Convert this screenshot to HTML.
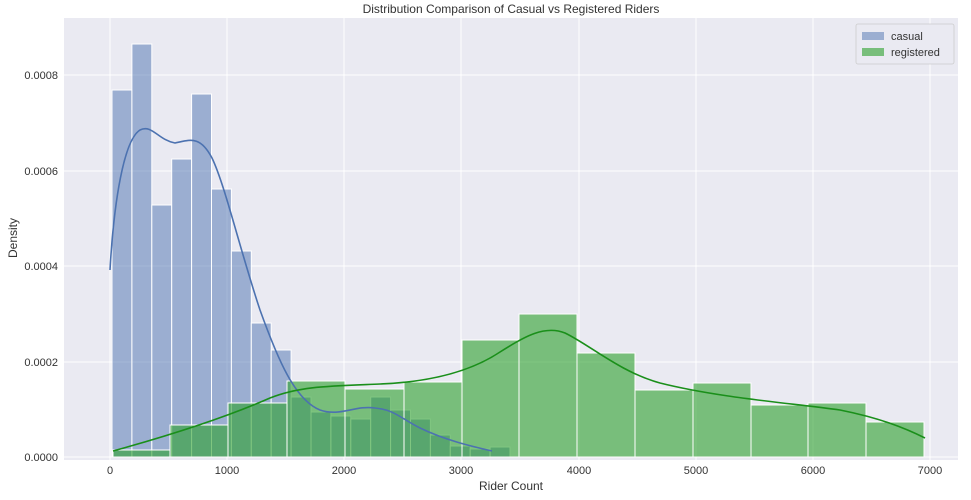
<!DOCTYPE html>
<html><head><meta charset="utf-8"><style>body{margin:0;background:#fff}svg{display:block;font-family:"Liberation Sans","DejaVu Sans",sans-serif}</style></head><body>
<svg width="971" height="500" viewBox="0 0 971 500">
<rect x="64" y="18" width="894" height="442" fill="#eaeaf2"/>
<g stroke="#fff" stroke-width="1">
<line x1="110" y1="18" x2="110" y2="460"/><line x1="227" y1="18" x2="227" y2="460"/><line x1="344" y1="18" x2="344" y2="460"/><line x1="461" y1="18" x2="461" y2="460"/><line x1="579" y1="18" x2="579" y2="460"/><line x1="696" y1="18" x2="696" y2="460"/><line x1="813" y1="18" x2="813" y2="460"/><line x1="930" y1="18" x2="930" y2="460"/>
<line x1="64" y1="457" x2="958" y2="457"/><line x1="64" y1="362" x2="958" y2="362"/><line x1="64" y1="266" x2="958" y2="266"/><line x1="64" y1="171" x2="958" y2="171"/><line x1="64" y1="75" x2="958" y2="75"/>
</g>
<g fill="#4c72b0" fill-opacity="0.5" stroke="#fff" stroke-width="1">
<rect x="112" y="90" width="19.9" height="367"/><rect x="131.9" y="44" width="19.9" height="413"/><rect x="151.8" y="205" width="19.9" height="252"/><rect x="171.7" y="159" width="19.9" height="298"/><rect x="191.6" y="94" width="19.9" height="363"/><rect x="211.5" y="189" width="19.9" height="268"/><rect x="231.4" y="251" width="19.9" height="206"/><rect x="251.3" y="323" width="19.9" height="134"/><rect x="271.2" y="350" width="19.9" height="107"/><rect x="291.1" y="397" width="19.9" height="60"/><rect x="311" y="412" width="19.9" height="45"/><rect x="330.9" y="416" width="19.9" height="41"/><rect x="350.8" y="419" width="19.9" height="38"/><rect x="370.7" y="397" width="19.9" height="60"/><rect x="390.6" y="410" width="19.9" height="47"/><rect x="410.5" y="419" width="19.9" height="38"/><rect x="430.4" y="435" width="19.9" height="22"/><rect x="450.3" y="446" width="19.9" height="11"/><rect x="470.2" y="449" width="19.9" height="8"/><rect x="490.1" y="447" width="19.9" height="10"/>
</g>
<g fill="#2ca02c" fill-opacity="0.6" stroke="#fff" stroke-width="1">
<rect x="113" y="450" width="57" height="7"/><rect x="170" y="425" width="58" height="32"/><rect x="228" y="403" width="59" height="54"/><rect x="287" y="381" width="58" height="76"/><rect x="345" y="389" width="59" height="68"/><rect x="404" y="382" width="58" height="75"/><rect x="462" y="340" width="57" height="117"/><rect x="519" y="314" width="58" height="143"/><rect x="577" y="353" width="58" height="104"/><rect x="635" y="390" width="58" height="67"/><rect x="693" y="383" width="58" height="74"/><rect x="751" y="405" width="57" height="52"/><rect x="808" y="403" width="58" height="54"/><rect x="866" y="422" width="58" height="35"/>
</g>
<path fill="none" stroke="#4c72b0" stroke-width="1.6" d="M110,270 C114,200 124,140 140,130 C152,124 158,140 175,143 C190,140 200,135 212,158 C225,185 240,250 260,310 C278,360 295,400 320,410 C340,417 355,405 375,408 C395,410 400,418 420,428 C445,440 470,446 492,451"/>
<path fill="none" stroke="#1a8f1a" stroke-width="1.6" d="M113,451 C160,438 220,420 270,398 C300,386 330,386 380,384 C430,382 470,372 500,352 C525,336 545,325 565,333 C590,345 620,372 660,383 C720,398 790,403 840,410 C880,418 905,428 925,438"/>
<g font-size="11" fill="#333" text-anchor="end">
<text x="58" y="461">0.0000</text><text x="58" y="366">0.0002</text><text x="58" y="270">0.0004</text><text x="58" y="175">0.0006</text><text x="58" y="79">0.0008</text>
</g>
<g font-size="11" fill="#333" text-anchor="middle">
<text x="110" y="474">0</text><text x="227" y="474">1000</text><text x="344" y="474">2000</text><text x="461" y="474">3000</text><text x="579" y="474">4000</text><text x="696" y="474">5000</text><text x="813" y="474">6000</text><text x="930" y="474">7000</text>
<text x="511" y="490" font-size="12">Rider Count</text>
<text x="511" y="13" font-size="12">Distribution Comparison of Casual vs Registered Riders</text>
</g>
<text x="0" y="0" font-size="12" fill="#333" text-anchor="middle" transform="translate(17,238) rotate(-90)">Density</text>
<rect x="856" y="24" width="98" height="40" fill="#eaeaf2" stroke="#ccc" stroke-width="0.8" rx="2"/>
<rect x="862" y="32" width="22" height="8" fill="#4c72b0" fill-opacity="0.5"/>
<rect x="862" y="48" width="22" height="8" fill="#2ca02c" fill-opacity="0.6"/>
<text x="891" y="40" font-size="11" fill="#333">casual</text>
<text x="891" y="56" font-size="11" fill="#333">registered</text>
</svg>
</body></html>
